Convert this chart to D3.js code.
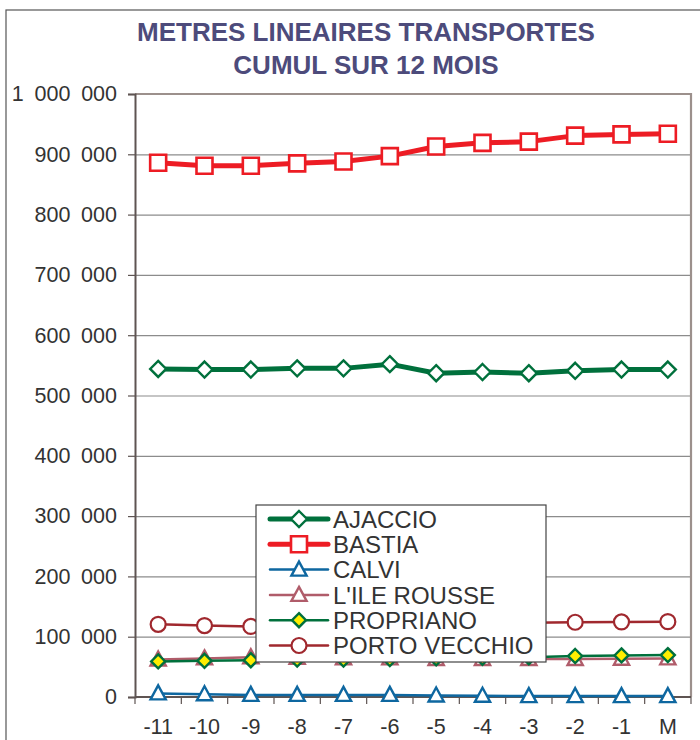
<!DOCTYPE html>
<html>
<head>
<meta charset="utf-8">
<script src="https://cdn.jsdelivr.net/npm/d3@7"></script>
<style>
  body { margin: 0; background: #fff; }
  svg { display: block; font-family: "Liberation Sans", Arial, sans-serif; }
</style>
</head>
<body>
<div class="chart"></div>
<script>
// ---------------------------------------------------------------- data
var months = ["-11", "-10", "-9", "-8", "-7", "-6", "-5", "-4", "-3", "-2", "-1", "M"];
var yTicks = [0, 100000, 200000, 300000, 400000, 500000, 600000, 700000, 800000, 900000, 1000000];

var ajaccio      = [544000, 543000, 543000, 545000, 545000, 552000, 537000, 539000, 537000, 541000, 543000, 543000];
var bastia       = [886000, 881000, 881000, 885000, 888000, 897000, 913000, 919000, 921000, 931000, 933000, 934000];
var calvi        = [6000, 4500, 3500, 3500, 3500, 3500, 2500, 2000, 1500, 1500, 1500, 1500];
var ileRousse    = [62000, 64000, 66000, 65000, 64000, 64000, 63000, 63000, 63000, 63000, 63500, 64000];
var propriano    = [59000, 60000, 61000, 62000, 62000, 63000, 64000, 65000, 66000, 68000, 69000, 69500];
var portoVecchio = [120500, 118500, 117000, 118000, 119000, 120000, 121000, 122000, 123000, 124000, 124500, 125000];

var series = [
  {name: "AJACCIO",       values: ajaccio,      color: "#00703c", width: 5,   shape: "diamond",  size: 8,   fill: "#fff"},
  {name: "BASTIA",        values: bastia,       color: "#ed1c24", width: 5,   shape: "square",   size: 8,   fill: "#fff"},
  {name: "CALVI",         values: calvi,        color: "#0e67a0", width: 2.5, shape: "triangle", size: 8,   fill: "#fff"},
  {name: "L'ILE ROUSSE",  values: ileRousse,    color: "#b05c6a", width: 2.5, shape: "triangle", size: 8,   fill: "#fff"},
  {name: "PROPRIANO",     values: propriano,    color: "#00703c", width: 2.5, shape: "diamond",  size: 7,   fill: "#ffee00"},
  {name: "PORTO VECCHIO", values: portoVecchio, color: "#a0282e", width: 2.5, shape: "circle",   size: 7.5, fill: "#fff"}
];

// ---------------------------------------------------------------- layout
var W = 700, H = 740;
var plot = {left: 135, right: 691, top: 94, bottom: 697};

var svg = d3.select(".chart").append("svg")
    .attr("width", W)
    .attr("height", H);

// outer frame
svg.append("rect")
    .attr("x", 6).attr("y", 10)
    .attr("width", W + 10).attr("height", H + 10)
    .attr("fill", "none").attr("stroke", "#555").attr("stroke-width", 1.2);

// title
var title = svg.append("text")
    .attr("text-anchor", "middle")
    .attr("fill", "#4d4b7b")
    .attr("font-weight", "bold")
    .attr("font-size", 26);
title.append("tspan").attr("x", 366).attr("y", 41).text("METRES LINEAIRES TRANSPORTES");
title.append("tspan").attr("x", 366).attr("y", 74).text("CUMUL SUR 12 MOIS");

// scales
var x = d3.scaleBand().domain(months).range([plot.left, plot.right]);
var y = d3.scaleLinear().domain([0, 1000000]).range([plot.bottom, plot.top]);
var cx = function(i) { return x(months[i]) + x.bandwidth() / 2; };

var fmt = d3.formatLocale({decimal: ",", thousands: "\u2002", grouping: [3], currency: ["", ""]}).format(",d");

// gridlines
svg.append("g")
    .attr("transform", "translate(" + plot.left + ",0)")
    .call(d3.axisLeft(y).tickValues(yTicks).tickSize(-(plot.right - plot.left)).tickFormat(""))
    .call(function(g) {
      g.select(".domain").remove();
      g.selectAll("line").attr("stroke", "#8c8c8c").attr("stroke-width", 1.2);
    });

// top / right border of plot area
svg.append("path")
    .attr("d", "M" + plot.left + "," + plot.top + "H" + plot.right + "V" + plot.bottom)
    .attr("fill", "none").attr("stroke", "#9c908c").attr("stroke-width", 2.2);

// y axis
svg.append("g")
    .attr("transform", "translate(" + plot.left + ",0)")
    .call(d3.axisLeft(y).tickValues(yTicks).tickSize(7).tickPadding(11).tickFormat(fmt))
    .call(function(g) {
      g.select(".domain").attr("stroke", "#5e5452").attr("stroke-width", 2);
      g.selectAll("line").attr("stroke", "#5e5452").attr("stroke-width", 1.2);
      g.selectAll("text").attr("font-size", 21.5).attr("fill", "#333")
        .attr("font-family", "'Liberation Sans', Arial, sans-serif");
    });

// x axis : labels under the points, ticks on the band edges
svg.append("g")
    .attr("transform", "translate(0," + plot.bottom + ")")
    .call(d3.axisBottom(x).tickSize(0).tickPadding(0))
    .call(function(g) {
      g.select(".domain").attr("stroke", "#5e5452").attr("stroke-width", 2)
        .attr("d", "M" + plot.left + ",0H" + plot.right);
      g.selectAll("text").attr("y", 22).attr("font-size", 21.5).attr("fill", "#333")
        .attr("font-family", "'Liberation Sans', Arial, sans-serif");
    });

var edges = months.map(function(m) { return x(m); }).concat([plot.right]);
svg.append("g").selectAll("line")
    .data(edges)
    .enter().append("line")
      .attr("x1", function(d) { return d; })
      .attr("x2", function(d) { return d; })
      .attr("y1", plot.bottom)
      .attr("y2", plot.bottom + 7)
      .attr("stroke", "#5e5452").attr("stroke-width", 1.2);

// ---------------------------------------------------------------- markers
function markerPath(shape, s) {
  if (shape === "diamond")  return "M0," + (-s) + "L" + s + ",0L0," + s + "L" + (-s) + ",0Z";
  if (shape === "square")   return "M" + (-s) + "," + (-s) + "H" + s + "V" + s + "H" + (-s) + "Z";
  if (shape === "triangle") return "M0," + (-s) + "L" + (s * 0.95) + "," + (s * 0.75) + "H" + (-s * 0.95) + "Z";
  return null;
}

function drawMarker(g, d, px, py) {
  if (d.shape === "circle") {
    g.append("circle")
      .attr("cx", px).attr("cy", py).attr("r", d.size)
      .attr("fill", d.fill).attr("stroke", d.color).attr("stroke-width", 2.2);
  } else {
    g.append("path")
      .attr("d", markerPath(d.shape, d.size))
      .attr("transform", "translate(" + px + "," + py + ")")
      .attr("fill", d.fill).attr("stroke", d.color)
      .attr("stroke-width", d.shape === "square" ? 2.6 : 2.4)
      .attr("stroke-linejoin", "miter");
  }
}

var line = d3.line()
    .x(function(v, i) { return cx(i); })
    .y(function(v) { return y(v); });

series.forEach(function(d) {
  var g = svg.append("g");
  g.append("path")
    .attr("d", line(d.values))
    .attr("fill", "none")
    .attr("stroke", d.color)
    .attr("stroke-width", d.width)
    .attr("stroke-linejoin", "round");
  d.values.forEach(function(v, i) { drawMarker(g, d, cx(i), y(v)); });
});

// ---------------------------------------------------------------- legend
var legend = svg.append("g").attr("transform", "translate(256,505)");
legend.append("rect")
    .attr("width", 290).attr("height", 157)
    .attr("fill", "#fff").attr("stroke", "#444").attr("stroke-width", 1.2);

series.forEach(function(d, i) {
  var ly = 14 + i * 25.3;
  var row = legend.append("g");
  row.append("line")
    .attr("x1", 14).attr("x2", 72).attr("y1", ly).attr("y2", ly)
    .attr("stroke", d.color).attr("stroke-width", d.width).attr("stroke-linecap", "round");
  drawMarker(row, d, 43, ly);
  row.append("text")
    .attr("x", 77).attr("y", ly).attr("dy", "0.36em")
    .attr("font-size", 24).attr("fill", "#333")
    .text(d.name);
});
</script>
</body>
</html>
